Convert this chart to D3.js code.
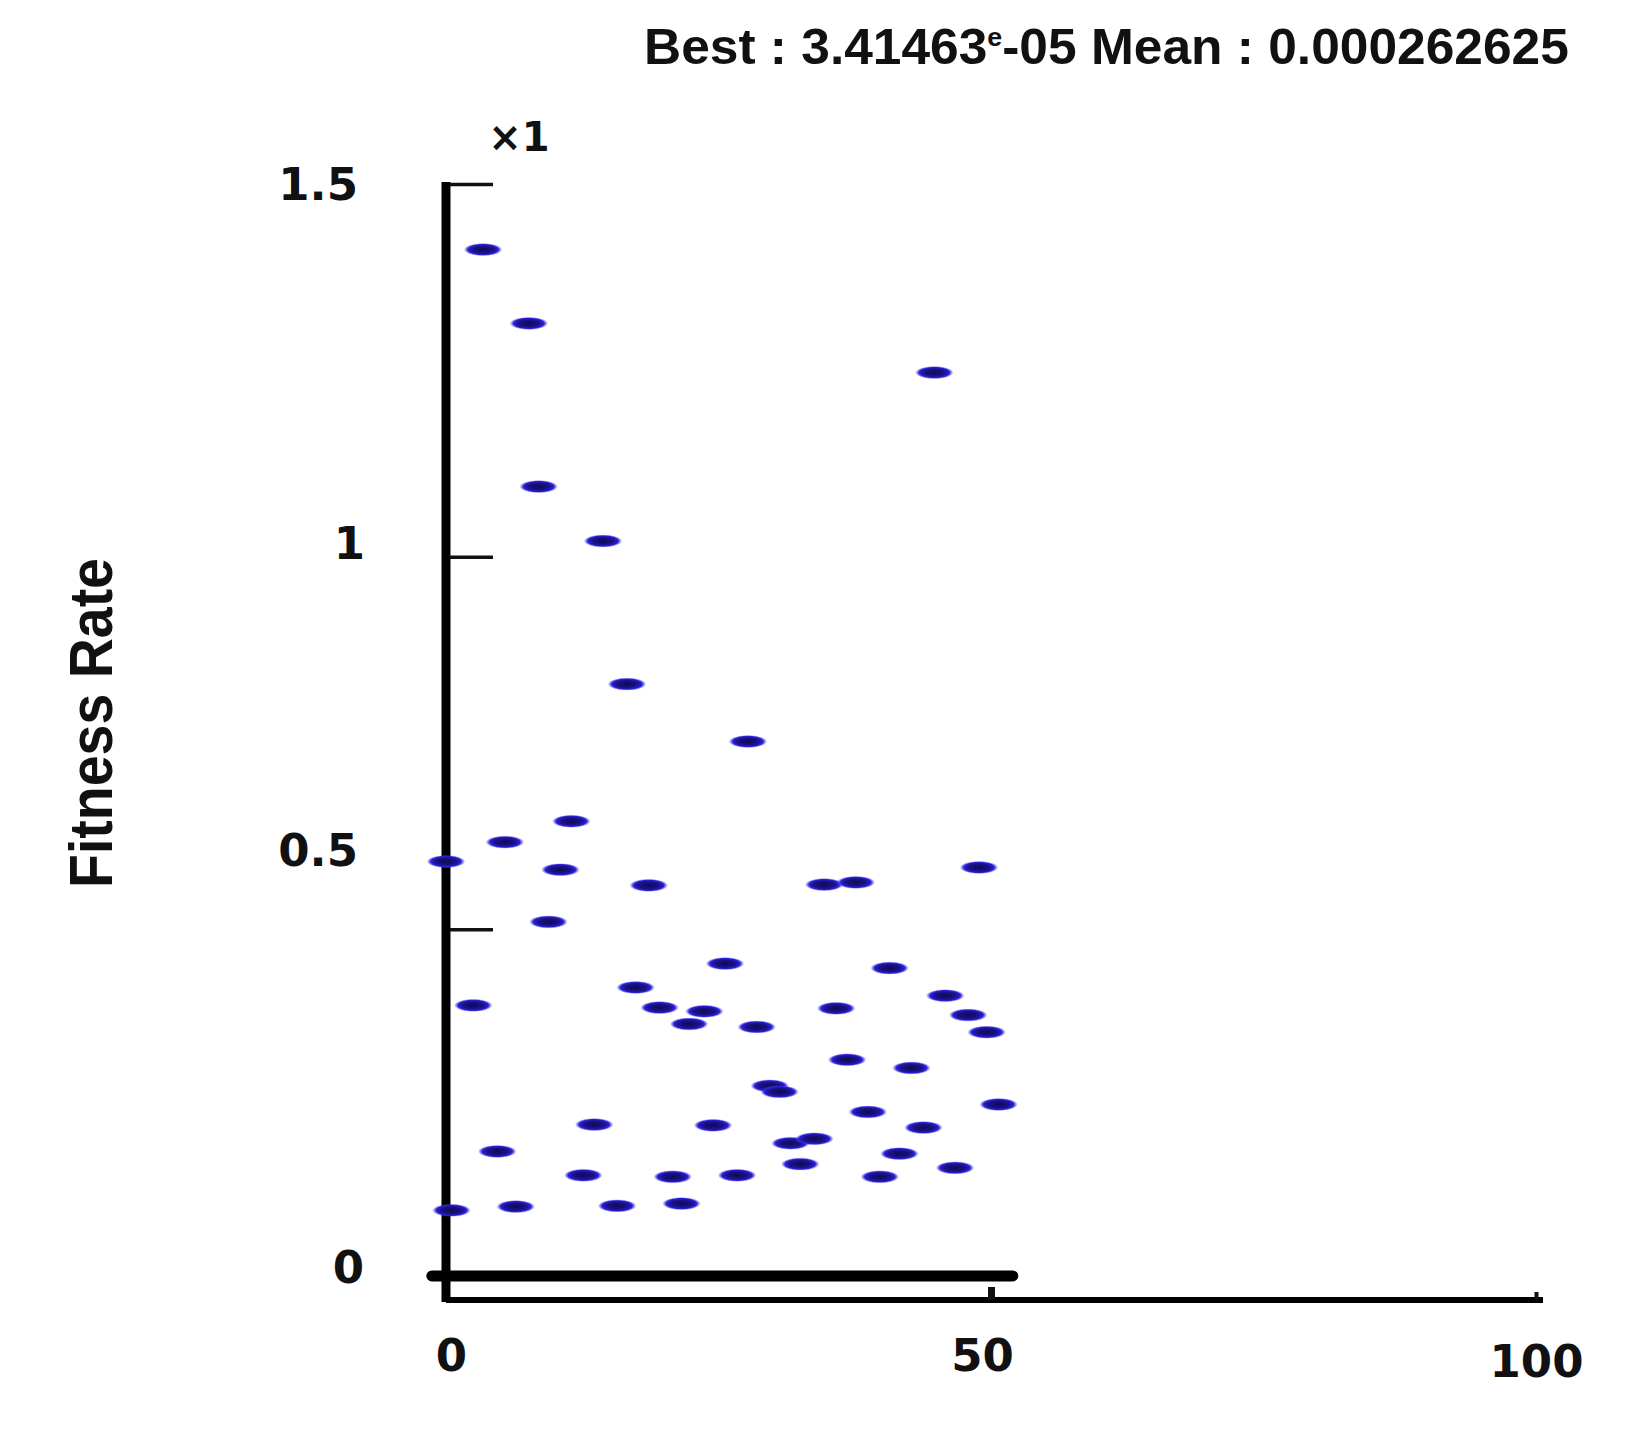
<!DOCTYPE html>
<html>
<head>
<meta charset="utf-8">
<script src="https://cdn.jsdelivr.net/npm/d3@7"></script>
<style>
  html, body { margin: 0; padding: 0; background: #ffffff; }
  svg { display: block; }
</style>
</head>
<body>
<svg id="chart" width="1637" height="1430"></svg>
<script>
// ---- data ----
const iterX = [3.4, 7.6, 44.8, 8.5, 14.4, 16.6, 27.7, 11.5, 5.4, 0, 10.5, 48.9, 18.6, 34.7, 37.6, 9.4, 25.6, 40.7, 17.4, 2.5, 19.6, 23.7, 22.3, 28.5, 35.8, 45.8, 47.9, 49.6, 36.8, 42.7, 29.7, 30.6, 50.7, 38.7, 13.6, 24.5, 43.8, 4.7, 31.6, 33.8, 41.6, 12.6, 20.8, 26.7, 32.5, 39.8, 46.7, 0.5, 6.4, 15.7, 21.6];
const fitnessY = [1.412, 1.313, 1.247, 1.094, 1.021, 0.829, 0.752, 0.645, 0.617, 0.591, 0.580, 0.583, 0.559, 0.560, 0.563, 0.510, 0.454, 0.448, 0.422, 0.398, 0.395, 0.390, 0.373, 0.369, 0.394, 0.411, 0.385, 0.362, 0.325, 0.314, 0.290, 0.282, 0.265, 0.255, 0.238, 0.237, 0.234, 0.202, 0.213, 0.219, 0.199, 0.170, 0.168, 0.170, 0.185, 0.168, 0.180, 0.123, 0.128, 0.129, 0.132];
const bestX = [-1.3, 52];
const bestY = [0.035, 0.035];
const yTicks = [0, 0.5, 1, 1.5];
const yTickLabels = ["0", "0.5", "1", "1.5"];
const xTicks = [0, 50, 100];
const xTickLabels = ["0", "50", "100"];
const titleBest = "3.41463";
const titleBestExp = "-05";
const titleMean = "0.000262625";
const yLabel = "Fitness Rate";
const scaleNote = "×1";

// ---- layout ----
const svg = d3.select("#chart");
const x = d3.scaleLinear().domain([0, 100]).range([446, 1536]);
const y = d3.scaleLinear().domain([0, 1.5]).range([1302, 184]);

const defs = svg.append("defs");
const grad = defs.append("radialGradient").attr("id", "dotGrad")
  .attr("cx", "50%").attr("cy", "50%").attr("r", "50%");
grad.append("stop").attr("offset", "0%").attr("stop-color", "#100a55");
grad.append("stop").attr("offset", "55%").attr("stop-color", "#1a1288");
grad.append("stop").attr("offset", "80%").attr("stop-color", "#2a20d8");
grad.append("stop").attr("offset", "100%").attr("stop-color", "#5a50ff").attr("stop-opacity", 0.1);

// Title
const title = svg.append("text")
  .attr("x", 644).attr("y", 64)
  .attr("font-family", "'Liberation Sans Narrow', 'Liberation Sans', Arial, sans-serif")
  .attr("font-weight", "bold")
  .attr("font-size", 50)
  .attr("fill", "#111");
title.append("tspan").text("Best : " + titleBest);
title.append("tspan").attr("font-size", 26).attr("dy", -18).text("e");
title.append("tspan").attr("dy", 18).text(titleBestExp + " Mean : " + titleMean);
{
  const w = title.node().getBBox().width;
  const sx = 925 / w;
  title.attr("transform", `translate(${644 - 644 * sx},0) scale(${sx},1)`);
}

// scale note
svg.append("text")
  .attr("x", 519).attr("y", 151)
  .attr("text-anchor", "middle")
  .attr("font-family", "'DejaVu Sans', sans-serif")
  .attr("font-weight", "bold")
  .attr("font-size", 40)
  .attr("fill", "#111")
  .text(scaleNote);

// Y axis label
const yl = svg.append("text")
  .attr("text-anchor", "middle")
  .attr("font-family", "'Liberation Sans Narrow', 'Liberation Sans', Arial, sans-serif")
  .attr("font-weight", "bold")
  .attr("font-size", 62)
  .attr("fill", "#111")
  .text(yLabel);
{
  const w = yl.node().getBBox().width;
  const sx = 330 / w;
  yl.attr("transform", `translate(112,723) rotate(-90) scale(${sx},1)`);
}

// Y axis
const yAxis = d3.axisLeft(y)
  .tickValues(yTicks)
  .tickFormat((d, i) => yTickLabels[i])
  .tickSizeInner(-43)
  .tickSizeOuter(0)
  .tickPadding(88);
const gy = svg.append("g").attr("transform", `translate(${x(0)},0)`).call(yAxis);
gy.select(".domain").attr("stroke", "#000").attr("stroke-width", 9)
  .attr("d", `M0,${y(0)}V${y(1.5) - 2}`);
gy.selectAll(".tick line").attr("stroke", "#111").attr("stroke-width", 3.5)
  .attr("transform", "translate(4,0)")
  .attr("display", d => d === 0 ? "none" : null);
const yLabelNudge = { 0: [6, -34], 0.5: [0, -78], 1: [7, -13], 1.5: [0, 1] };
gy.selectAll(".tick text")
  .attr("font-family", "'DejaVu Sans', sans-serif")
  .attr("font-weight", "bold")
  .attr("font-size", 45)
  .attr("fill", "#111")
  .attr("transform", d => `translate(${yLabelNudge[d][0]},${yLabelNudge[d][1]})`);

// X axis
const xAxis = d3.axisBottom(x)
  .tickValues(xTicks)
  .tickFormat((d, i) => xTickLabels[i])
  .tickSizeInner(-13)
  .tickSizeOuter(0)
  .tickPadding(39);
const gx = svg.append("g").attr("transform", `translate(0,${y(0) - 2})`).call(xAxis);
gx.select(".domain").attr("stroke", "#000").attr("stroke-width", 6)
  .attr("d", `M${x(0)},0H${x(100) + 7}`);
gx.selectAll(".tick line").attr("stroke", "#111")
  .attr("stroke-width", d => d === 0 ? 0 : (d === 50 ? 7 : 4))
  .attr("y2", d => d === 100 ? -8 : -13);
const xLabelNudge = { 0: [5, 0], 50: [-9, 0], 100: [0, 6] };
gx.selectAll(".tick text")
  .attr("font-family", "'DejaVu Sans', sans-serif")
  .attr("font-weight", "bold")
  .attr("font-size", 45)
  .attr("fill", "#111")
  .attr("transform", d => `translate(${xLabelNudge[d][0]},${xLabelNudge[d][1]})`);

// Best line (thick)
const bestLine = d3.line().x(d => x(d[0])).y(d => y(d[1]));
svg.append("path")
  .datum(bestX.map((v, i) => [v, bestY[i]]))
  .attr("d", bestLine)
  .attr("fill", "none")
  .attr("stroke", "#000")
  .attr("stroke-width", 11)
  .attr("stroke-linecap", "round");

// Points
svg.append("g").selectAll("ellipse")
  .data(iterX.map((v, i) => [v, fitnessY[i]]))
  .join("ellipse")
  .attr("cx", d => x(d[0]))
  .attr("cy", d => y(d[1]))
  .attr("rx", 19)
  .attr("ry", 6.5)
  .attr("fill", "url(#dotGrad)");
</script>
</body>
</html>
